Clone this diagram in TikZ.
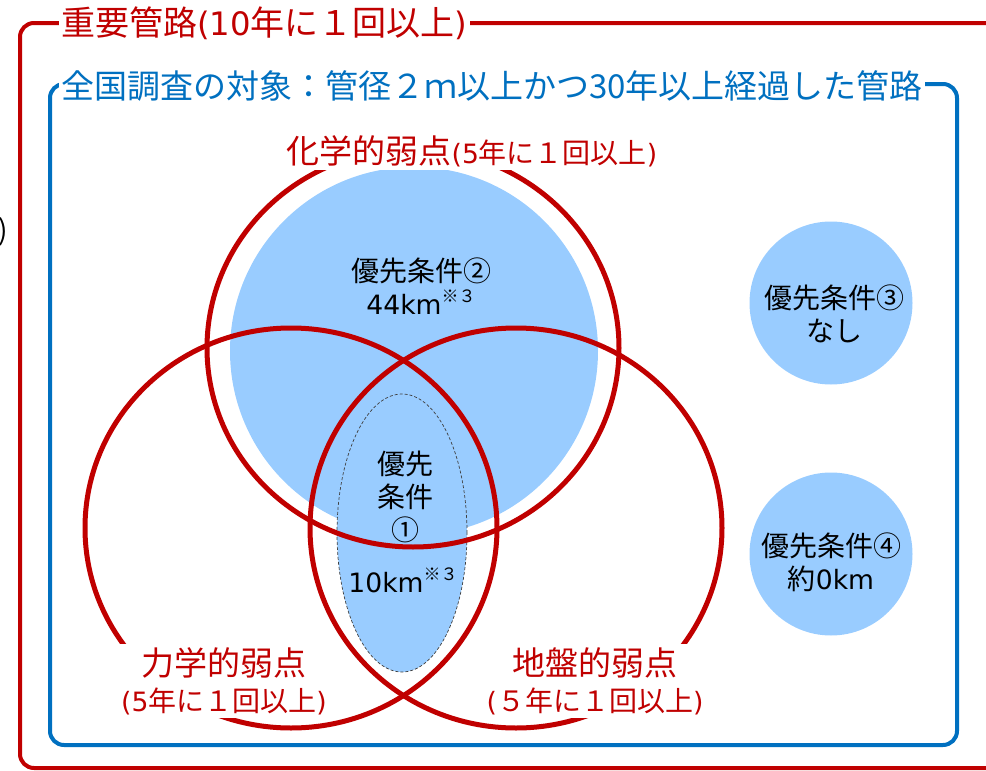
\documentclass[tikz,border=0pt]{standalone}
\usepackage{fontspec}
\setmainfont{Noto Sans CJK JP}
\newfontfamily\lat[Scale=0.95]{DejaVu Sans}
\usepackage{xcolor}
\definecolor{jred}{HTML}{C00000}
\definecolor{jblue}{HTML}{0070C0}
\definecolor{jfill}{HTML}{99CCFF}
\usetikzlibrary{shapes.geometric}
\newcommand{\kome}[1]{\raisebox{0.42em}{\fontsize{17}{17}\selectfont #1}}

\begin{document}
\begin{tikzpicture}[x=1pt, y=-1pt,
    weak/.style={ellipse, draw=jred, line width=5pt, minimum width=412pt, minimum height=400pt, inner sep=0pt},
    prio/.style={circle, fill=jfill, inner sep=0pt},
    redlbl/.style={text=jred, fill=white, align=center, inner sep=3pt, font=\fontsize{33}{36}\selectfont},
    txt/.style={align=center, inner sep=0pt, font=\fontsize{28}{33}\selectfont}]
    \useasboundingbox (0,0) rectangle (986,771);

    % Frames
    \draw[jred, line width=4pt, rounded corners=14pt] (20,23) rectangle (1012,768);
    \draw[jblue, line width=4pt, rounded corners=14pt] (50,84) rectangle (957,745);
    \node[anchor=west, fill=white, text=jred, inner sep=2pt, font=\fontsize{34}{36}\selectfont] (imp) at (59,23) {重要管路{\lat (10}年に１回以上{\lat )}};
    \node[anchor=west, fill=white, text=jblue, inner sep=2pt, font=\fontsize{33}{36}\selectfont] (scope) at (59,86) {全国調査の対象：管径２ｍ以上かつ30年以上経過した管路};
    \node[anchor=east, inner sep=0pt, font=\fontsize{28}{33}\selectfont] (cut) at (8,232) {)};

    % Priority areas
    \node[prio, minimum size=368pt] (p2) at (414,351) {};
    \node[ellipse, fill=jfill, draw=black!75, dash pattern=on 3pt off 2pt, line width=0.7pt,
          minimum width=130pt, minimum height=278pt, inner sep=0pt] (p1) at (402,533) {};
    \node[prio, minimum size=163pt] (p3) at (831,303) {};
    \node[prio, minimum size=163pt] (p4) at (831,554) {};

    % Weak points
    \node[weak, minimum height=398pt] (chem) at (413,348) {};
    \node[weak] (mech) at (291,528) {};
    \node[weak] (geo) at (516,528) {};

    % Labels
    \node[redlbl] (chemlbl) at (472,151) {化学的弱点{\fontsize{28}{36}\selectfont{\lat (5}年に１回以上{\lat )}}};
    \node[redlbl] (mechlbl) at (224,681) {力学的弱点\\{\fontsize{28}{36}\selectfont{\lat (5}年に１回以上{\lat )}}};
    \node[redlbl] (geolbl) at (595,681) {地盤的弱点\\{\fontsize{28}{36}\selectfont{\lat (}５年に１回以上{\lat )}}};

    \node[txt] (p2txt) at (421,286) {優先条件②\\{\lat 44km}\kome{※３}};
    \node[txt] (p1txt) at (405,497) {優先\\条件\\①};
    \node[txt] (p1km) at (403,580) {{\lat 10km}\kome{※３}};
    \node[txt] (p3txt) at (834,314) {優先条件③\\なし};
    \node[txt] (p4txt) at (831,562) {優先条件④\\約{\lat 0km}};
\end{tikzpicture}
\end{document}
